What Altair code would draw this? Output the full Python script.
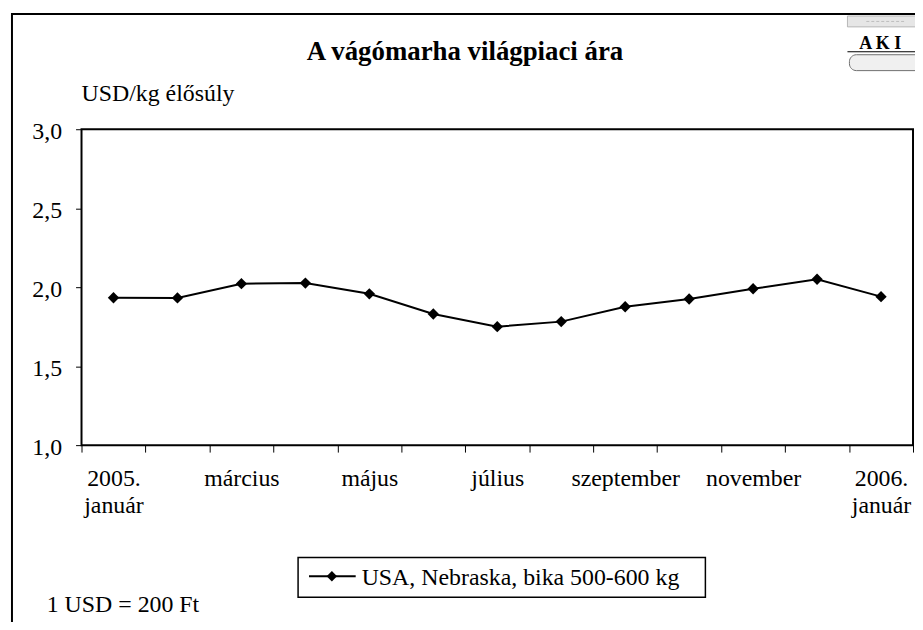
import altair as alt
import pandas as pd

# ---- data ----
months = ["2005. január", "február", "március", "április", "május", "június",
          "július", "augusztus", "szeptember", "október", "november", "december",
          "2006. január"]
tick_labels = [["2005.", "január"], "", "március", "", "május", "", "július", "",
               "szeptember", "", "november", "", ["2006.", "január"]]
values = [1.933, 1.932, 2.022, 2.026, 1.958, 1.830, 1.750, 1.782, 1.876, 1.925,
          1.990, 2.050, 1.940]
series_name = "USA, Nebraska, bika 500-600 kg"
y_ticks = [1.0, 1.5, 2.0, 2.5, 3.0]
title_text = "A vágómarha világpiaci ára"
unit_text = "USD/kg élősúly"
note_text = "1 USD = 200 Ft"

FONT = "Liberation Serif"
FS = 24

df = pd.DataFrame({"month": months, "value": values, "series": [series_name] * len(months)})


def js_label(lbl):
    if isinstance(lbl, list):
        return "[" + ",".join("'" + s + "'" for s in lbl) + "]"
    return "'" + lbl + "'"


expr = "''"
for m, lbl in reversed(list(zip(months, tick_labels))):
    expr = f"datum.value == '{m}' ? {js_label(lbl)} : ({expr})"

x_enc = alt.X(
    "month:N", sort=months,
    scale=alt.Scale(type="band", paddingInner=0, paddingOuter=0),
    axis=alt.Axis(title=None, labelAngle=0, tickBand="extent", labelExpr=expr,
                  labelOverlap=False, labelFlush=False, labelBound=False,
                  domain=False, tickSize=7, tickWidth=1, tickColor="black",
                  labelPadding=15, labelLineHeight=27, labelBaseline="top",
                  labelFont=FONT, labelFontSize=FS, labelColor="black"),
)
y_enc = alt.Y(
    "value:Q",
    scale=alt.Scale(domain=[1, 3], nice=False, zero=False),
    axis=alt.Axis(title=None, values=y_ticks, grid=False, domain=False,
                  labelExpr="replace(format(datum.value, '.1f'), '.', ',')",
                  tickSize=6, tickWidth=1, tickColor="black", labelPadding=14,
                  labelOffset=2,
                  labelFont=FONT, labelFontSize=FS, labelColor="black"),
)

line = alt.Chart(df).mark_line(
    color="black", strokeWidth=2,
    point=alt.OverlayMarkDef(shape="diamond", size=130, filled=True, color="black"),
).encode(x=x_enc, y=y_enc)

one = pd.DataFrame({"a": [0]})
base = alt.Chart(one)

frame = base.mark_rect(filled=False, stroke="black", strokeWidth=2).encode(
    x=alt.value(-70), x2=alt.value(1000), y=alt.value(-116), y2=alt.value(700))

title = base.mark_text(font=FONT, fontSize=27, fontWeight="bold", align="center",
                       baseline="alphabetic", color="black").encode(
    x=alt.value(386), y=alt.value(-70), text=alt.value(title_text))

unit = base.mark_text(font=FONT, fontSize=FS, align="left", baseline="alphabetic",
                      color="black").encode(
    x=alt.value(0), y=alt.value(-28), text=alt.value(unit_text))

note = base.mark_text(font=FONT, fontSize=FS, align="left", baseline="alphabetic",
                      color="black").encode(
    x=alt.value(-35), y=alt.value(486), text=alt.value(note_text))

# legend
leg_box = base.mark_rect(fill="white", stroke="black", strokeWidth=1.5).encode(
    x=alt.value(218), x2=alt.value(628), y=alt.value(431), y2=alt.value(471))
leg_line = base.mark_rule(color="black", strokeWidth=2).encode(
    x=alt.value(229), x2=alt.value(276), y=alt.value(450))
leg_pt = base.mark_point(shape="diamond", size=110, filled=True, color="black",
                         opacity=1).encode(x=alt.value(252), y=alt.value(450))
leg_txt = base.mark_text(font=FONT, fontSize=FS, align="left", baseline="middle",
                         color="black").encode(
    x=alt.value(282), y=alt.value(452), text=alt.value(series_name))

# AKI logo (decoration)
logo_top = base.mark_rect(fill="#e6e6e6", stroke="#a8a8a8", strokeWidth=0.8).encode(
    x=alt.value(771), x2=alt.value(880), y=alt.value(-114), y2=alt.value(-103))
logo_mid = base.mark_rule(color="#bdbdbd", strokeWidth=1, strokeDash=[3, 2]).encode(
    x=alt.value(790), x2=alt.value(830), y=alt.value(-108.5))
logo_txt = base.mark_text(font=FONT, fontSize=18, fontWeight="bold", align="left",
                          baseline="alphabetic", color="black").encode(
    x=alt.value(783), y=alt.value(-81), text=alt.value("A K I"))
logo_ul = base.mark_rule(color="black", strokeWidth=1.2).encode(
    x=alt.value(771), x2=alt.value(880), y=alt.value(-78))
logo_bar = base.mark_rect(fill="#f0f0f0", stroke="#707070", strokeWidth=1,
                          cornerRadius=7).encode(
    x=alt.value(773), x2=alt.value(880), y=alt.value(-75), y2=alt.value(-59))

chart = alt.layer(
    frame, logo_top, logo_mid, logo_txt, logo_ul, logo_bar, title, unit, note,
    line, leg_box, leg_line, leg_pt, leg_txt,
).properties(
    width=837, height=318,
    autosize=alt.AutoSizeParams(type="none"),
    padding={"left": 74, "top": 120, "right": 2, "bottom": 176},
    background="white",
).configure_view(stroke="black", strokeWidth=2)

chart.save("out.html", embed_options={"renderer": "svg", "actions": False})
